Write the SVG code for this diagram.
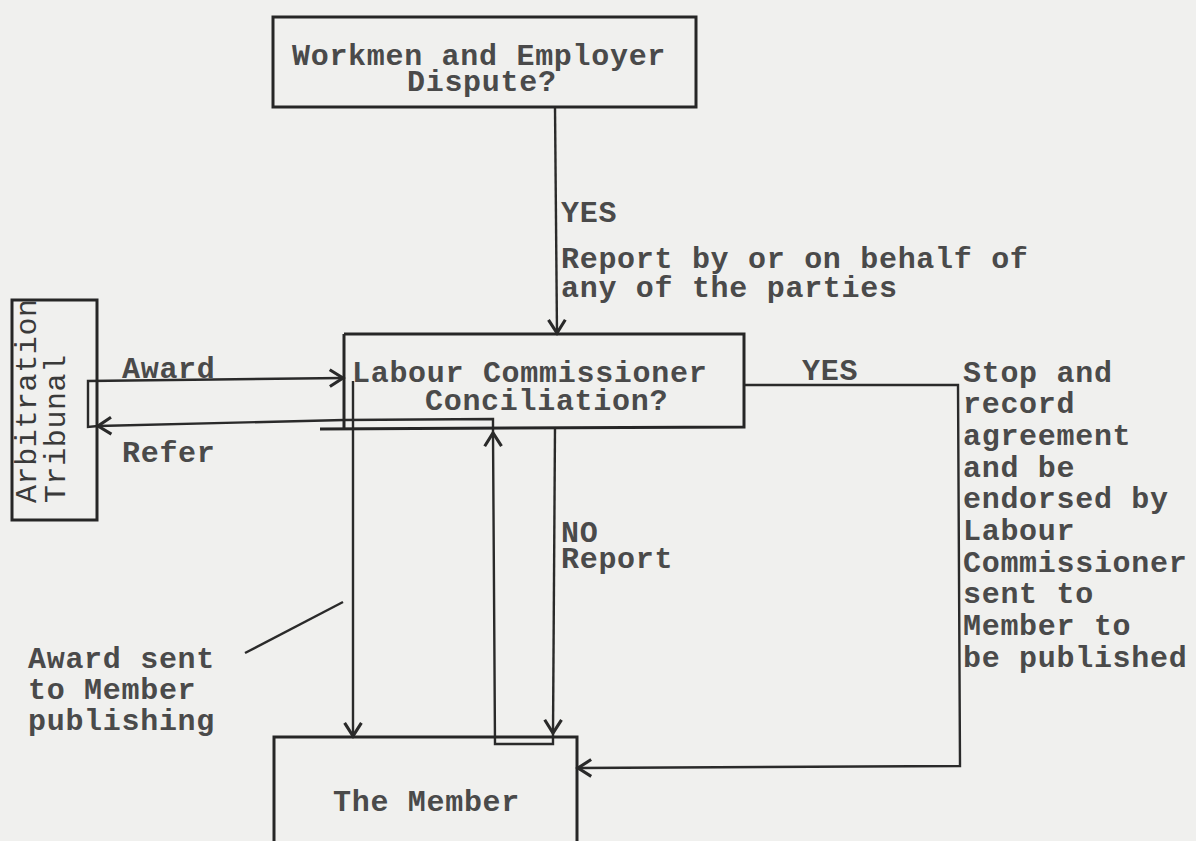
<svg xmlns="http://www.w3.org/2000/svg" width="1196" height="841" viewBox="0 0 1196 841">
<style>
.bg{fill:#f0f0ee}
.box{fill:none;stroke:#262626;stroke-width:3}
.ln{fill:none;stroke:#2a2a2a;stroke-width:2.4;stroke-linejoin:miter}
.t{font-family:"Liberation Mono","DejaVu Sans Mono",monospace;font-size:30px;letter-spacing:0.7px;font-weight:bold;fill:#4a4a4a}
.tv{font-family:"Liberation Mono","DejaVu Sans Mono",monospace;font-size:30px;letter-spacing:0.6px;fill:#3a3a3a}
</style>
<defs>
<marker id="ah" markerUnits="userSpaceOnUse" markerWidth="24" markerHeight="24" viewBox="-14 -10 16 20" refX="0" refY="0" orient="auto">
<path d="M -11 -7 L 0 0 L -11 7" fill="none" stroke="#2a2a2a" stroke-width="2.6"/>
</marker>
</defs>
<rect class="bg" x="0" y="0" width="1196" height="841"/>

<g id="connectors">
<path class="ln" d="M 555 107 L 557 333" marker-end="url(#ah)"/>
<path class="ln" d="M 744 385 L 958 385 L 960 766 L 578 768" marker-end="url(#ah)"/>
<path class="ln" d="M 555 427 L 553 733" marker-end="url(#ah)"/>
<path class="ln" d="M 553 733 L 553 744 L 495 744 L 493 433" marker-end="url(#ah)"/>
<path class="ln" d="M 493 434 L 493 419 L 344 420 L 98 426" marker-end="url(#ah)"/>
<path class="ln" d="M 98 426 L 88 427 L 88 381 L 343 378" marker-end="url(#ah)"/>
<path class="ln" d="M 353 381 L 353 736" marker-end="url(#ah)"/>
<path class="ln" d="M 245 653 L 343 602"/>
</g>

<g id="dispute">
<rect class="box" x="273" y="17" width="423" height="90"/>
<text class="t" x="292" y="65">Workmen and Employer</text>
<text class="t" x="407" y="91">Dispute?</text>
</g>

<g id="labour">
<path class="box" d="M 344 334 L 744 334 L 744 427 L 320 429"/>
<path class="box" d="M 344 334 L 344 429"/>
<text class="t" x="352" y="382">Labour Commissioner</text>
<text class="t" x="425" y="410">Conciliation?</text>
</g>

<g id="arbitration">
<rect class="box" x="12" y="300" width="85" height="220"/>
<text class="tv" transform="translate(36 503) rotate(-90)">Arbitration</text>
<text class="tv" transform="translate(65 503) rotate(-90)">Tribunal</text>
</g>

<g id="member">
<rect class="box" x="274" y="737" width="303" height="130"/>
<text class="t" x="333" y="811">The Member</text>
</g>

<g id="labels">
<text class="t" x="561" y="222">YES</text>
<text class="t" x="561" y="268">Report by or on behalf of</text>
<text class="t" x="561" y="297">any of the parties</text>
<text class="t" x="802" y="380">YES</text>
<text class="t" x="561" y="542">NO</text>
<text class="t" x="561" y="568">Report</text>
<text class="t" x="122" y="378">Award</text>
<text class="t" x="122" y="462">Refer</text>
<text class="t" x="28" y="668">Award sent</text>
<text class="t" x="28" y="699">to Member</text>
<text class="t" x="28" y="730">publishing</text>
<text class="t" x="963" y="382">Stop and</text>
<text class="t" x="963" y="413">record</text>
<text class="t" x="963" y="445">agreement</text>
<text class="t" x="963" y="477">and be</text>
<text class="t" x="963" y="508">endorsed by</text>
<text class="t" x="963" y="540">Labour</text>
<text class="t" x="963" y="572">Commissioner</text>
<text class="t" x="963" y="603">sent to</text>
<text class="t" x="963" y="635">Member to</text>
<text class="t" x="963" y="667">be published</text>
</g>
</svg>
